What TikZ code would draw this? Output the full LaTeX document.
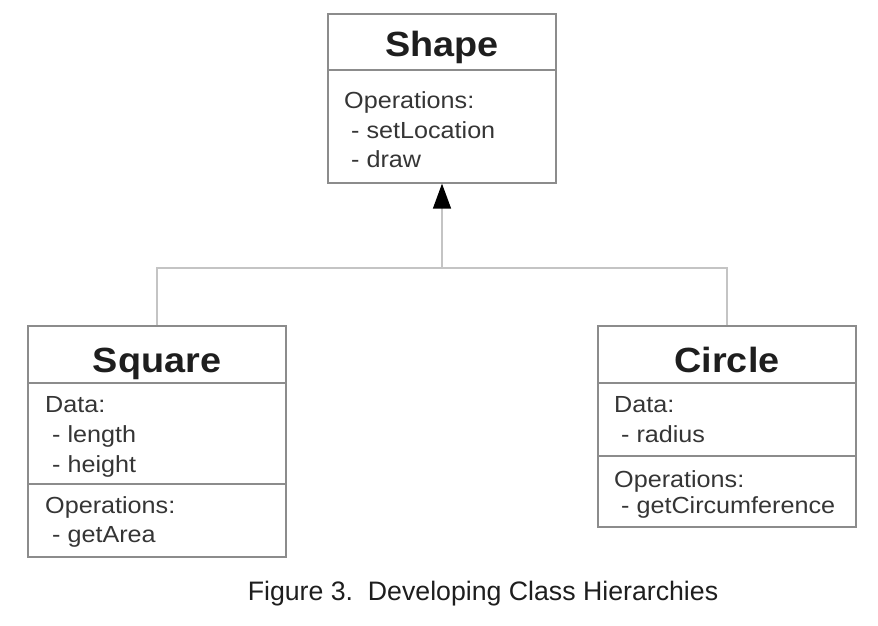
\documentclass[tikz,border=0pt]{standalone}
\usepackage{fontspec}
\setmainfont{Liberation Sans}
\newfontfamily\widesans[FakeStretch=1.08]{Liberation Sans}
\usetikzlibrary{arrows.meta}
\definecolor{boxgray}{HTML}{8C8C8C}
\definecolor{linegray}{HTML}{C4C4C4}
\definecolor{ink}{HTML}{1E1E1E}
\tikzset{
  classbox/.style={draw=boxgray, line width=1.3pt, rectangle, inner sep=0pt},
  divider/.style={draw=boxgray, line width=1.3pt},
  title/.style={font=\widesans\fontsize{35}{40}\selectfont\bfseries, text=ink, anchor=base, inner sep=0pt},
  body/.style={font=\widesans\fontsize{23.3}{29}\selectfont, text=ink!90, anchor=base west, inner sep=0pt},
  link/.style={draw=linegray, line width=1.5pt},
  inherit/.style={link, -{Triangle[length=25pt, width=18pt, fill=black, color=black]}},
  caption/.style={font=\fontsize{26.7}{32}\selectfont, text=ink, anchor=base, inner sep=0pt}
}
\begin{document}
\begin{tikzpicture}[x=1pt, y=-1pt]
\useasboundingbox (0,0) rectangle (878,626);
% Shape
\node[classbox, minimum width=228pt, minimum height=169pt] (shape) at (442,98.5) {};
\draw[divider] (328,70) -- (556,70);
\node[title] (shapeT) at (442,57) {Shape};
\node[body] (shape1) at (344,108) {Operations:};
\node[body] (shape2) at (344,138) {\ - setLocation};
\node[body] (shape3) at (344,167) {\ - draw};
% Square
\node[classbox, minimum width=258pt, minimum height=231pt] (square) at (157,441.5) {};
\draw[divider] (28,383) -- (286,383);
\draw[divider] (28,484) -- (286,484);
\node[title] (squareT) at (157,372) {Square};
\node[body] (sq1) at (45,412) {Data:};
\node[body] (sq2) at (45,442) {\ - length};
\node[body] (sq3) at (45,472) {\ - height};
\node[body] (sq4) at (45,513) {Operations:};
\node[body] (sq5) at (45,542) {\ - getArea};
% Circle
\node[classbox, minimum width=258pt, minimum height=201pt] (circle) at (727,426.5) {};
\draw[divider] (598,383) -- (856,383);
\draw[divider] (598,456) -- (856,456);
\node[title] (circleT) at (727,372) {Circle};
\node[body] (ci1) at (614,412) {Data:};
\node[body] (ci2) at (614,442) {\ - radius};
\node[body] (ci3) at (614,487) {Operations:};
\node[body] (ci4) at (614,513) {\ - getCircumference};
% connectors
\coordinate (j) at (442,268);
\draw[link] (square.north) |- (j);
\draw[link] (circle.north) |- (j);
\draw[inherit] (j) -- (shape.south);
% caption
\node[caption] (cap) at (483,600) {Figure 3.\ \ Developing Class Hierarchies};
\end{tikzpicture}
\end{document}
